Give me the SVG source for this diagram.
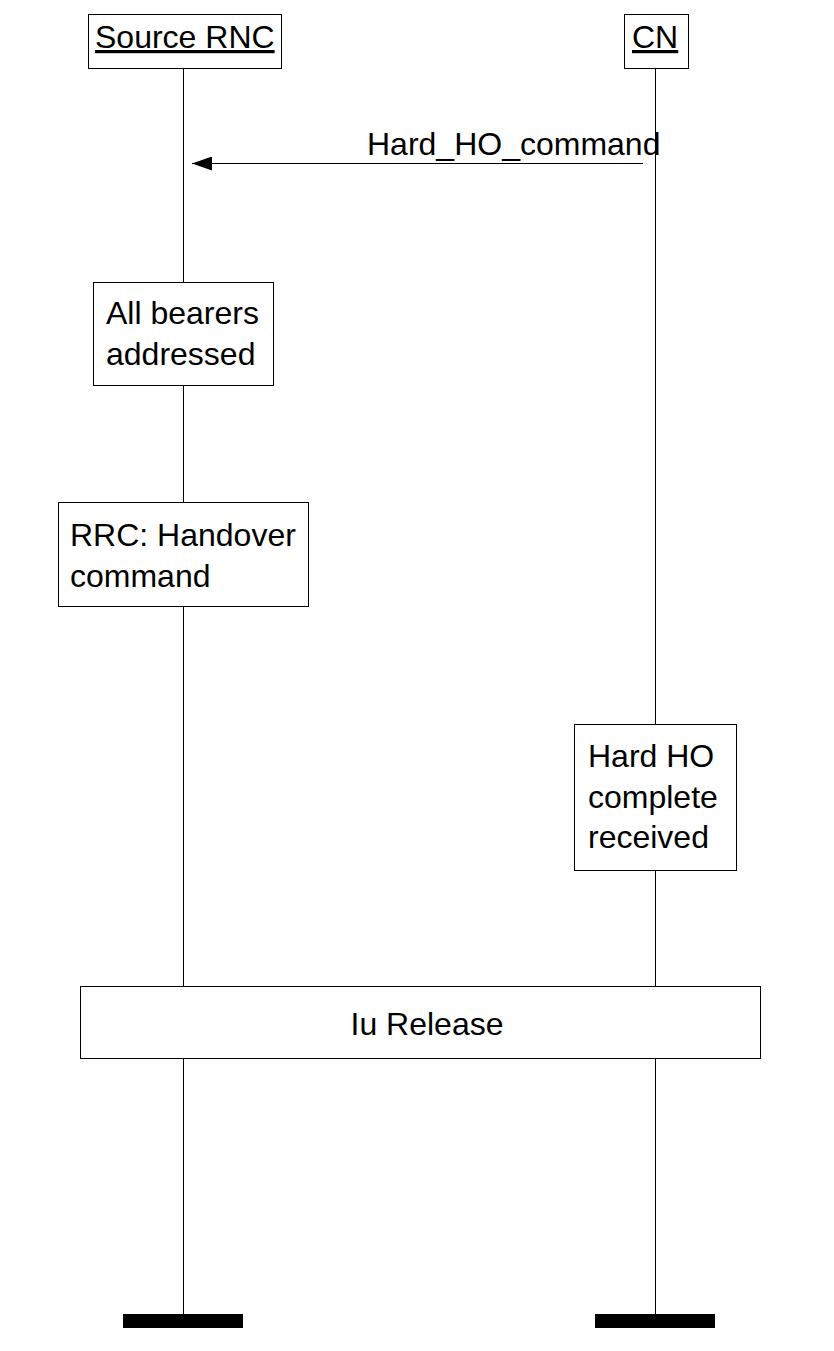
<svg xmlns="http://www.w3.org/2000/svg" width="834" height="1351" viewBox="0 0 834 1351">
<defs>
<style>
.t{font-family:"Liberation Sans",Arial,sans-serif;font-size:32px;fill:#000}
.box{fill:#fff;stroke:#000;stroke-width:1}
.life{stroke:#000;stroke-width:1}
.bar{fill:#000}
</style>
<marker id="ah" markerWidth="20" markerHeight="14" refX="20" refY="7" orient="auto" markerUnits="userSpaceOnUse">
<path d="M0,0 L20,7 L0,14 Z" fill="#000"/>
</marker>
</defs>
<rect width="834" height="1351" fill="#fff"/>
<g id="lifelines">
<line class="life" x1="183.5" y1="68" x2="183.5" y2="1314"/>
<line class="life" x1="655.5" y1="68" x2="655.5" y2="1314" stroke="#555"/>
</g>
<g id="source-rnc">
<rect class="box" x="88.5" y="14.5" width="193" height="54"/>
<text class="t" x="95" y="48" text-decoration="underline">Source RNC</text>
</g>
<g id="cn">
<rect class="box" x="624.5" y="14.5" width="64" height="54"/>
<text class="t" x="632" y="48" text-decoration="underline">CN</text>
</g>
<g id="connectors">
<line x1="643" y1="163.5" x2="192" y2="163.5" stroke="#000" stroke-width="1" marker-end="url(#ah)"/>
<text class="t" x="367" y="155">Hard_HO_command</text>
</g>
<g id="all-bearers">
<rect class="box" x="93.5" y="282.5" width="180" height="103"/>
<text class="t" x="106" y="324">All bearers</text>
<text class="t" x="106" y="365">addressed</text>
</g>
<g id="rrc-handover">
<rect class="box" x="58.5" y="502.5" width="250" height="104"/>
<text class="t" x="70" y="546">RRC: Handover</text>
<text class="t" x="70" y="587">command</text>
</g>
<g id="hard-ho-complete">
<rect class="box" x="574.5" y="724.5" width="162" height="146"/>
<text class="t" x="588" y="767">Hard HO</text>
<text class="t" x="588" y="808">complete</text>
<text class="t" x="588" y="848">received</text>
</g>
<g id="iu-release">
<rect class="box" x="80.5" y="986.5" width="680" height="72"/>
<text class="t" x="427" y="1035" text-anchor="middle">Iu Release</text>
</g>
<g id="end-bars">
<rect class="bar" x="123" y="1314" width="120" height="14"/>
<rect class="bar" x="595" y="1314" width="120" height="14"/>
</g>
</svg>
